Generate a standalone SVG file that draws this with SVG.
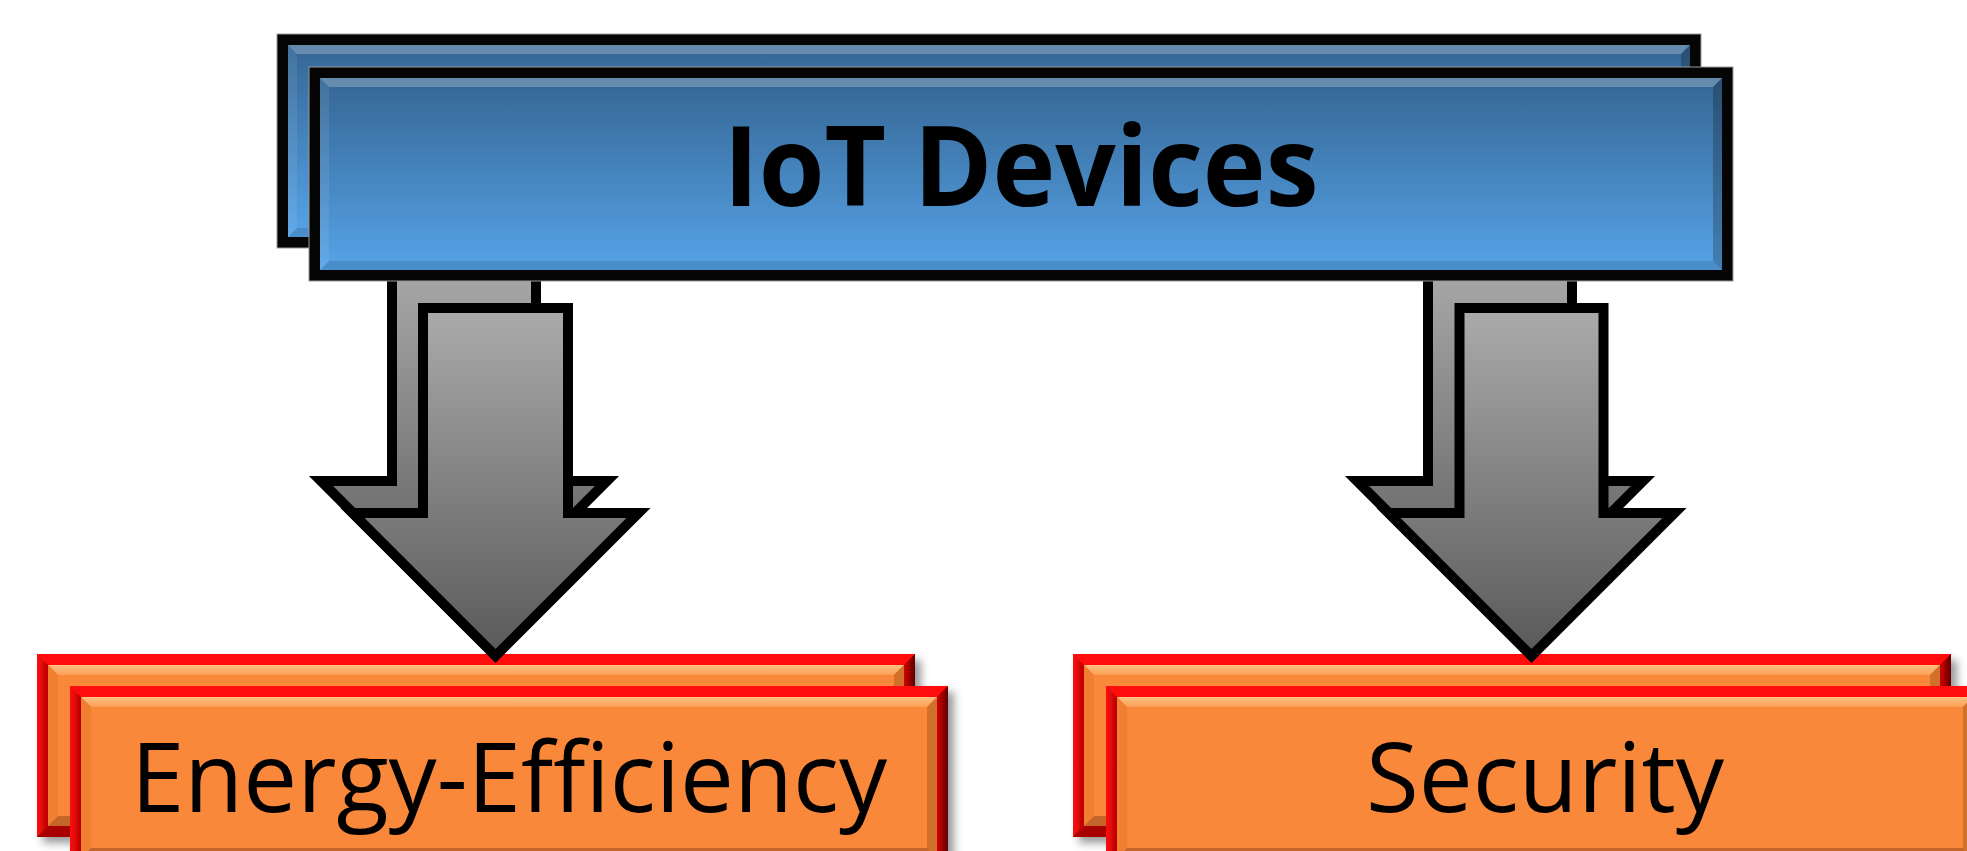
<svg xmlns="http://www.w3.org/2000/svg" xmlns:xlink="http://www.w3.org/1999/xlink" width="1967" height="851" viewBox="0 0 1967 851">
  <style>
    .label { font-family: "Open Sans", "Liberation Sans", sans-serif; fill: #000; text-anchor: middle; font-variant-ligatures: none; }
    .title { font-weight: 700; font-size: 112px; }
    .sub { font-weight: 400; font-size: 97px; }
    .arrow { fill: url(#grayFill); stroke: #000; stroke-width: 10; stroke-linejoin: miter; stroke-miterlimit: 10; }
  </style>
  <defs>
    <linearGradient id="blueFill" x1="0" y1="0" x2="0" y2="1">
      <stop offset="0" stop-color="#356694"/>
      <stop offset="1" stop-color="#56a3e7"/>
    </linearGradient>
    <linearGradient id="grayFill" x1="0" y1="0" x2="0" y2="1">
      <stop offset="0" stop-color="#ababab"/>
      <stop offset="1" stop-color="#595959"/>
    </linearGradient>
    <linearGradient id="orangeTop" x1="0" y1="0" x2="0" y2="1">
      <stop offset="0" stop-color="#ffc183"/>
      <stop offset="1" stop-color="#fb9f55"/>
    </linearGradient>
    <linearGradient id="redLeft" x1="0" y1="0" x2="1" y2="0">
      <stop offset="0" stop-color="#ff1010"/>
      <stop offset="1" stop-color="#b80000"/>
    </linearGradient>
    <linearGradient id="redRight" x1="0" y1="0" x2="1" y2="0">
      <stop offset="0" stop-color="#d40000"/>
      <stop offset="1" stop-color="#5e0000"/>
    </linearGradient>
    <filter id="cardShadow" x="-5%" y="-10%" width="115%" height="130%">
      <feDropShadow dx="6" dy="6" stdDeviation="4" flood-color="#000" flood-opacity="0.4"/>
    </filter>

    <!-- blue bevelled card, 1424 x 214 -->
    <g id="blueCard">
      <rect x="0" y="0" width="1424" height="214" fill="#050505" stroke="#9a9a9a" stroke-width="1"/>
      <rect x="11" y="11" width="1402" height="192" fill="url(#blueFill)"/>
      <polygon points="11,11 1413,11 1404,20 20,20" fill="#fff" fill-opacity="0.24"/>
      <polygon points="11,11 20,20 20,194 11,203" fill="#fff" fill-opacity="0.08"/>
      <polygon points="1413,11 1413,203 1404,194 1404,20" fill="#000" fill-opacity="0.22"/>
      <polygon points="11,203 1413,203 1404,194 20,194" fill="#000" fill-opacity="0.12"/>
    </g>

    <!-- orange bevelled card with red frame, 878 x 183 -->
    <g id="orangeCard">
      <rect x="0" y="0" width="878" height="183" fill="#ff0a0a"/>
      <polygon points="0,0 11,11 11,172 0,183" fill="url(#redLeft)"/>
      <polygon points="878,0 867,11 867,172 878,183" fill="url(#redRight)"/>
      <polygon points="0,183 11,172 867,172 878,183" fill="#a80000"/>
      <rect x="11" y="11" width="856" height="161" fill="#f9883b"/>
      <polygon points="11,11 867,11 857,21 21,21" fill="url(#orangeTop)"/>
      <polygon points="11,11 21,21 21,162 11,172" fill="#f07f33"/>
      <polygon points="867,11 867,172 857,162 857,21" fill="#d0702c"/>
      <polygon points="11,172 867,172 857,162 21,162" fill="#c4662a"/>
    </g>
  </defs>

  <rect x="0" y="0" width="1967" height="851" fill="#fff"/>

  <!-- outcome nodes -->
  <g id="energy-efficiency" filter="url(#cardShadow)">
    <use xlink:href="#orangeCard" x="37" y="654"/>
    <use xlink:href="#orangeCard" x="70" y="686"/>
    <text class="label sub" x="509" y="812" textLength="756" lengthAdjust="spacingAndGlyphs">Energy-Efficiency</text>
  </g>

  <g id="security" filter="url(#cardShadow)">
    <use xlink:href="#orangeCard" x="1073" y="654"/>
    <use xlink:href="#orangeCard" x="1106" y="686"/>
    <text class="label sub" x="1545" y="812" textLength="358" lengthAdjust="spacingAndGlyphs">Security</text>
  </g>

  <!-- block arrows from the device layer down to each outcome -->
  <g id="connectors">
    <path class="arrow" d="M392,255 H536 V481 H607 L464,624 L321,481 H392 Z"/>
    <path class="arrow" d="M423,308 H568 V513 H638.5 L495.5,656 L352.5,513 H423 Z"/>
    <path class="arrow" d="M1428,255 H1572 V481 H1643 L1500,624 L1357,481 H1428 Z"/>
    <path class="arrow" d="M1459.5,308 H1603.5 V513 H1674.5 L1531.5,656 L1388.5,513 H1459.5 Z"/>
  </g>

  <!-- source node -->
  <g id="iot-devices">
    <use xlink:href="#blueCard" x="277" y="34"/>
    <use xlink:href="#blueCard" x="309" y="67"/>
    <text class="label title" x="1021" y="206" textLength="595" lengthAdjust="spacingAndGlyphs">IoT Devices</text>
  </g>
</svg>
